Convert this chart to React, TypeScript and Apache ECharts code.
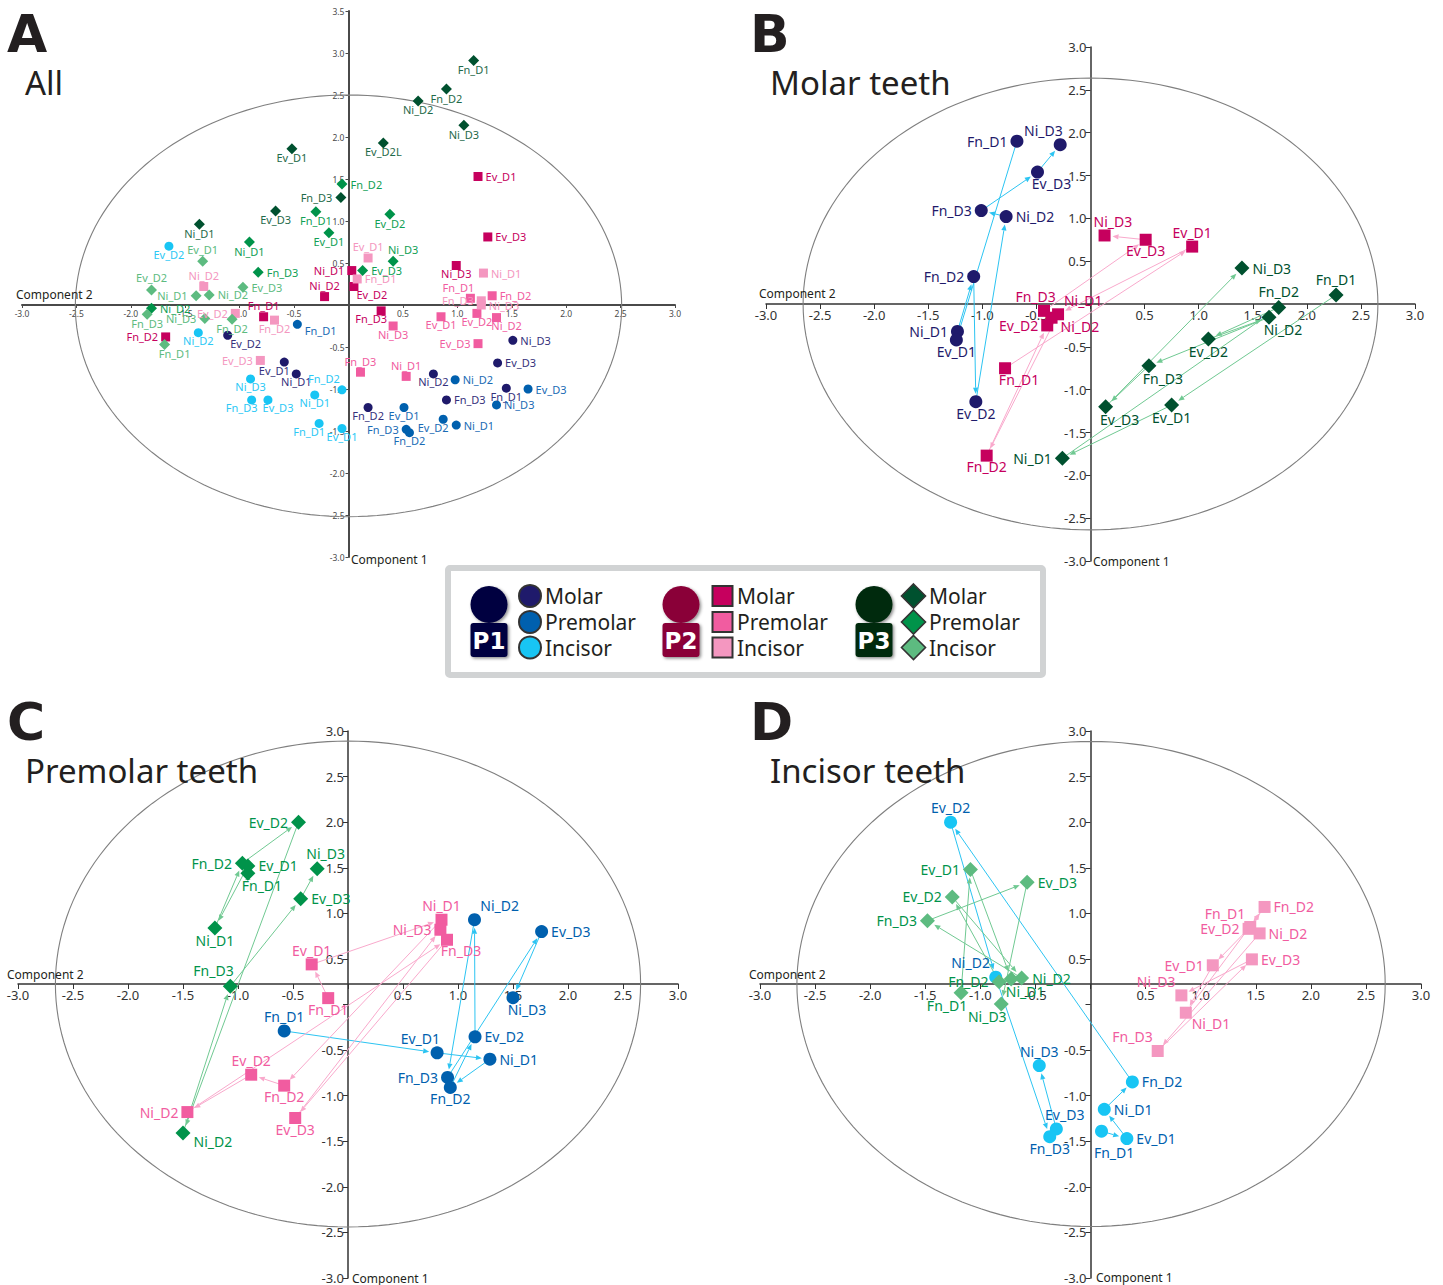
import React, { useEffect, useRef } from "react";
import * as echarts from "echarts";

type P = [string, number, number];

// ---------- Panel A (All) ----------
const A_P1_MOLAR: P[] = [["Ni_D3",1.51,-0.42],["Ev_D3",1.37,-0.69],["Fn_D1",1.45,-0.99],["Ni_D2",0.78,-0.82],["Fn_D3",0.90,-1.13],["Fn_D2",0.18,-1.22],["Ev_D2",-1.11,-0.36],["Ev_D1",-0.59,-0.68],["Ni_D1",-0.48,-0.82]];
const A_P1_PREMOLAR: P[] = [["Fn_D1",-0.47,-0.23],["Ni_D2",0.98,-0.89],["Ev_D3",1.65,-1.00],["Ni_D3",1.36,-1.19],["Ev_D1",0.51,-1.22],["Ni_D1",0.99,-1.43],["Ev_D2",0.87,-1.36],["Fn_D3",0.53,-1.48],["Fn_D2",0.56,-1.52]];
const A_P1_INCISOR: P[] = [["Ev_D2",-1.65,0.70],["Ni_D2",-1.38,-0.33],["Ni_D3",-0.90,-0.88],["Fn_D3",-0.89,-1.13],["Ev_D3",-0.74,-1.13],["Ni_D1",-0.31,-1.07],["Fn_D2",-0.06,-1.01],["Fn_D1",-0.27,-1.41],["Ev_D1",-0.06,-1.47]];
const A_P2_MOLAR: P[] = [["Ev_D1",1.19,1.53],["Ev_D3",1.28,0.81],["Ni_D3",0.99,0.47],["Ni_D1",0.03,0.41],["Ni_D2",-0.22,0.10],["Ev_D2",0.05,0.22],["Fn_D3",0.30,-0.07],["Fn_D1",-0.78,-0.14],["Fn_D2",-1.68,-0.38]];
const A_P2_PREMOLAR: P[] = [["Fn_D2",1.32,0.11],["Fn_D1",1.12,0.08],["Ev_D2",1.18,-0.10],["Ev_D1",0.85,-0.14],["Ni_D2",1.36,-0.15],["Ni_D3",0.41,-0.25],["Ev_D3",1.19,-0.46],["Fn_D3",0.11,-0.80],["Ni_D1",0.53,-0.85]];
const A_P2_INCISOR: P[] = [["Ev_D1",0.18,0.56],["Fn_D1",0.08,0.31],["Ni_D1",1.24,0.38],["Fn_D3",1.22,0.05],["Ni_D3",1.22,0.0],["Ni_D2",-1.33,0.22],["Ev_D2",-1.04,-0.10],["Fn_D2",-0.68,-0.18],["Ev_D3",-0.81,-0.66]];
const A_P3_MOLAR: P[] = [["Fn_D1",1.15,2.91],["Fn_D2",0.90,2.57],["Ni_D2",0.64,2.43],["Ni_D3",1.06,2.14],["Ev_D2L",0.32,1.93],["Ev_D1",-0.52,1.86],["Fn_D3",-0.07,1.28],["Ev_D3",-0.67,1.12],["Ni_D1",-1.37,0.96]];
const A_P3_PREMOLAR: P[] = [["Fn_D2",-0.06,1.44],["Fn_D1",-0.30,1.11],["Ev_D1",-0.18,0.86],["Ni_D1",-0.91,0.75],["Fn_D3",-0.83,0.39],["Ev_D3",0.13,0.41],["Ni_D3",0.41,0.52],["Ev_D2",0.38,1.08],["Ni_D2",-1.81,-0.04]];
const A_P3_INCISOR: P[] = [["Ev_D1",-1.34,0.52],["Ev_D2",-1.81,0.18],["Ev_D3",-0.97,0.21],["Ni_D1",-1.40,0.11],["Ni_D2",-1.28,0.12],["Ni_D3",-1.32,-0.16],["Fn_D2",-1.07,-0.17],["Fn_D3",-1.85,-0.11],["Fn_D1",-1.69,-0.47]];

// ---------- Panel B (Molar) ----------
const B_P1: P[] = [["Fn_D1",-0.68,1.90],["Ni_D3",-0.28,1.86],["Ev_D3",-0.49,1.54],["Fn_D3",-1.01,1.09],["Ni_D2",-0.78,1.02],["Fn_D2",-1.08,0.32],["Ni_D1",-1.23,-0.32],["Ev_D1",-1.24,-0.42],["Ev_D2",-1.06,-1.14]];
const B_P2: P[] = [["Ev_D1",0.94,0.67],["Ev_D3",0.51,0.75],["Ni_D3",0.13,0.80],["Fn_D3",-0.43,-0.08],["Ni_D1",-0.30,-0.12],["Ni_D2",-0.36,-0.16],["Ev_D2",-0.40,-0.25],["Fn_D1",-0.79,-0.75],["Fn_D2",-0.96,-1.77]];
const B_P3: P[] = [["Fn_D1",2.27,0.105],["Fn_D2",1.74,-0.04],["Ni_D2",1.65,-0.155],["Ni_D3",1.40,0.42],["Ev_D2",1.09,-0.41],["Fn_D3",0.54,-0.72],["Ev_D1",0.75,-1.18],["Ev_D3",0.14,-1.20],["Ni_D1",-0.26,-1.80]];

// ---------- Panel C (Premolar) ----------
const C_P1: P[] = [["Ni_D2",1.15,0.93],["Ev_D3",1.76,0.80],["Ni_D3",1.50,0.075],["Ev_D2",1.155,-0.355],["Ev_D1",0.81,-0.53],["Ni_D1",1.29,-0.60],["Fn_D3",0.905,-0.80],["Fn_D2",0.93,-0.91],["Fn_D1",-0.58,-0.29]];
const C_P2: P[] = [["Ev_D1",-0.33,0.44],["Fn_D1",-0.18,0.07],["Ev_D2",-0.88,-0.77],["Fn_D2",-0.58,-0.89],["Ni_D2",-1.46,-1.18],["Ev_D3",-0.48,-1.245],["Ni_D1",0.85,0.93],["Ni_D3",0.84,0.82],["Fn_D3",0.90,0.71]];
const C_P3: P[] = [["Ev_D2",-0.45,2.00],["Fn_D2",-0.96,1.55],["Ev_D1",-0.91,1.52],["Fn_D1",-0.91,1.44],["Ni_D3",-0.28,1.49],["Ev_D3",-0.43,1.16],["Ni_D1",-1.21,0.84],["Fn_D3",-1.07,0.20],["Ni_D2",-1.50,-1.41]];

// ---------- Panel D (Incisor) ----------
const D_P1: P[] = [["Ev_D2",-1.27,2.00],["Ni_D2",-0.86,0.30],["Ni_D3",-0.465,-0.67],["Ev_D3",-0.31,-1.365],["Fn_D3",-0.37,-1.45],["Fn_D2",0.38,-0.85],["Ni_D1",0.125,-1.15],["Fn_D1",0.10,-1.39],["Ev_D1",0.33,-1.47]];
const D_P2: P[] = [["Fn_D2",1.58,1.07],["Fn_D1",1.45,0.85],["Ev_D2",1.435,0.83],["Ni_D2",1.535,0.78],["Ev_D3",1.465,0.495],["Ev_D1",1.11,0.43],["Ni_D3",0.825,0.10],["Ni_D1",0.865,-0.09],["Fn_D3",0.61,-0.51]];
const D_P3: P[] = [["Ev_D1",-1.09,1.48],["Ev_D3",-0.575,1.34],["Ev_D2",-1.255,1.18],["Fn_D3",-1.48,0.92],["Ni_D2",-0.625,0.29],["Ni_D1",-0.72,0.28],["Fn_D2",-0.83,0.25],["Fn_D1",-1.175,0.13],["Ni_D3",-0.81,0.005]];

// label sides, in the order of the lists above
const A_SIDES = ["rrbbrbSLb", "ErrrbrLlb", "bbbLRbWLb", "rrbltSLtl", "rUbbRbltt", "trrlrtlbl", "bbbbbblbb", "rbbbrrTbr", "ttrlrlbbR"];
const B_SIDES = ["lURlrllbb", "tbHIVElRb", "ttRrbRbRl"];
const C_SIDES = ["VrRrUrlbt", "tbtblbtlR", "llrRHrbUE"];
const D_SIDES = ["tWtHbrrYr", "rWlrrlWSW", "lrllrRlLL"];

// the fixed order in which each group's sessions are joined
const ARROW_ORDER = ["Fn_D1", "Ev_D1", "Ni_D1", "Fn_D2", "Ev_D2", "Ni_D2", "Fn_D3", "Ev_D3", "Ni_D3"];

const ELLIPSE_A = [0, -0.01, 2.51, 2.51];
const ELLIPSE_B = [0, 0, 2.657, 2.637];
const ELLIPSE_C = [0, 0.225, 2.66, 2.665];
const ELLIPSE_D = [0.005, 0.225, 2.67, 2.66];

const TICK_STEP = 0.5;

const C1 = { m: "#1f1a6b", p: "#0060ae", i: "#18c5f4" };
const C2 = { m: "#c6005e", p: "#f15ca0", i: "#f497c0" };
const C3 = { m: "#00512f", p: "#00934a", i: "#5dbb80" };
const ARROW = { p1: "#2cc4f2", p2: "#f9a9cc", p3: "#70c992" };
const FONT = "Noto Sans";
const TEXT = "#231f20";

function labelOpts(code: string, d: number) {
  const below = (k: number, dy = 0) => ({ position: "bottom", distance: -2, offset: [d * k, dy] });
  const above = (k: number) => ({ position: "top", distance: 1, offset: [d * k, 0] });
  switch (code) {
    case "r": return { position: "right", distance: 3 };
    case "l": return { position: "left", distance: 3 };
    case "E": return { position: "right", distance: 3, offset: [0, d * 0.6] };
    case "t": return above(0);
    case "b": return below(0);
    case "R": return below(1);
    case "Y": return below(0.9, d * 0.7);
    case "S": return below(1.8);
    case "L": return below(-1);
    case "T": return above(1);
    case "H": return above(0.6);
    case "V": return above(1.8);
    case "I": return above(-0.6);
    case "U": return above(-1.2);
    default: return above(-1.8);
  }
}

function scatter(idx: number, pts: P[], sides: string, symbol: string, size: number, color: string, labelColor: string, fontSize: number, scale: number) {
  return {
    type: "scatter",
    xAxisIndex: idx,
    yAxisIndex: idx,
    symbol,
    symbolSize: size,
    z: 5,
    silent: true,
    itemStyle: { color, opacity: 1 },
    label: { show: true, color: labelColor, fontSize, fontFamily: FONT, formatter: "{b}" },
    data: pts.map((p, i) => ({ name: p[0], value: [p[1], p[2]], label: labelOpts(sides[i], scale) })),
  };
}

function arrows(idx: number, pts: P[], color: string, gap: number) {
  const byName = new Map(pts.map((p) => [p[0], p]));
  const data: number[][] = [];
  for (let i = 0; i + 1 < ARROW_ORDER.length; i++) {
    const a = byName.get(ARROW_ORDER[i])!;
    const b = byName.get(ARROW_ORDER[i + 1])!;
    data.push([a[1], a[2], b[1], b[2]]);
  }
  return {
    type: "custom",
    xAxisIndex: idx,
    yAxisIndex: idx,
    coordinateSystem: "cartesian2d",
    silent: true,
    clip: false,
    z: 3,
    data,
    renderItem: (_: any, api: any) => {
      const a = api.coord([api.value(0), api.value(1)]);
      const b = api.coord([api.value(2), api.value(3)]);
      const dx = b[0] - a[0];
      const dy = b[1] - a[1];
      const len = Math.hypot(dx, dy) || 1;
      const ux = dx / len;
      const uy = dy / len;
      const ex = b[0] - ux * gap;
      const ey = b[1] - uy * gap;
      const hx = ex - ux * 6;
      const hy = ey - uy * 6;
      return {
        type: "group",
        children: [
          { type: "line", shape: { x1: a[0], y1: a[1], x2: hx, y2: hy }, style: { stroke: color, lineWidth: 1, fill: "none" } },
          { type: "polygon", shape: { points: [[ex, ey], [hx - uy * 2.6, hy + ux * 2.6], [hx + uy * 2.6, hy - ux * 2.6]] }, style: { fill: color, stroke: "none" } },
        ],
      };
    },
  };
}

function ellipse(idx: number, e: number[]) {
  return {
    type: "custom",
    xAxisIndex: idx,
    yAxisIndex: idx,
    coordinateSystem: "cartesian2d",
    silent: true,
    clip: false,
    z: 1,
    data: [e],
    renderItem: (_: any, api: any) => {
      const cx = api.value(0), cy = api.value(1), rx = api.value(2), ry = api.value(3);
      const points: number[][] = [];
      for (let i = 0; i <= 180; i++) {
        const t = (i / 180) * Math.PI * 2;
        points.push(api.coord([cx + rx * Math.cos(t), cy + ry * Math.sin(t)]));
      }
      return { type: "polyline", shape: { points }, style: { stroke: "#7f7f7f", lineWidth: 1.1, fill: "none" } };
    },
  };
}

function axisPair(idx: number, yMin: number, yMax: number, fontSize: number, lineWidth: number, tick: number, color: string, xOffset: number, yOffset: number) {
  const fmt = (v: number) => (Math.abs(v) < 1e-9 ? "" : v.toFixed(1));
  const common = {
    type: "value",
    gridIndex: idx,
    interval: TICK_STEP,
    splitLine: { show: false },
    axisTick: { show: true, length: tick, lineStyle: { color, width: 1 } },
    axisLabel: { show: true, fontSize, fontFamily: FONT, color, margin: 4, formatter: fmt, showMinLabel: true, showMaxLabel: true, hideOverlap: false },
  };
  return {
    x: {
      ...common,
      min: -3,
      max: 3,
      position: "bottom",
      offset: xOffset,
      axisLine: { show: true, onZero: false, lineStyle: { color, width: lineWidth } },
    },
    y: {
      ...common,
      min: yMin,
      max: yMax,
      position: "left",
      offset: yOffset,
      axisLine: { show: true, onZero: false, lineStyle: { color, width: lineWidth } },
    },
  };
}

function txt(text: string, x: number, y: number, font: string, fill = TEXT) {
  return { type: "text", silent: true, z: 20, style: { text, x, y, font, fill, align: "left", verticalAlign: "middle" } };
}

function legendGraphics() {
  const out: any[] = [];
  out.push({ type: "rect", z: 10, silent: true, shape: { x: 448, y: 568, width: 595, height: 107, r: 2 }, style: { fill: "#fff", stroke: "#d1d3d4", lineWidth: 6 } });
  const people = [
    { head: 489, dark: "#01003f", tag: "P1" },
    { head: 681, dark: "#8a0038", tag: "P2" },
    { head: 874, dark: "#002a0f", tag: "P3" },
  ];
  const shadow = { shadowBlur: 3, shadowOffsetX: 1.5, shadowOffsetY: 1.5, shadowColor: "rgba(0,0,0,0.45)" };
  people.forEach((p) => {
    out.push({ type: "ellipse", z: 11, silent: true, shape: { cx: p.head, cy: 604.5, rx: 18.5, ry: 18.5 }, style: { fill: p.dark, ...shadow } });
    out.push({ type: "rect", z: 11, silent: true, shape: { x: p.head - 18.5, y: 623, width: 37, height: 34, r: 3 }, style: { fill: p.dark, ...shadow } });
    out.push({ type: "text", z: 12, silent: true, style: { text: p.tag, x: p.head, y: 641, font: "bold 23px 'DejaVu Sans'", fill: "#fff", align: "center", verticalAlign: "middle" } });
  });
  const rows = [596, 622, 647.5];
  const names = ["Molar", "Premolar", "Incisor"];
  const stroke = "#333";
  rows.forEach((y, i) => {
    const k = i === 0 ? "m" : i === 1 ? "p" : "i";
    out.push({ type: "circle", z: 11, silent: true, shape: { cx: 530, cy: y, r: 11 }, style: { fill: (C1 as any)[k], stroke, lineWidth: 2 } });
    out.push({ type: "rect", z: 11, silent: true, shape: { x: 712.5, y: y - 10, width: 20, height: 20 }, style: { fill: (C2 as any)[k], stroke, lineWidth: 2 } });
    out.push({ type: "polygon", z: 11, silent: true, shape: { points: [[913.5, y - 12], [925.5, y], [913.5, y + 12], [901.5, y]] }, style: { fill: (C3 as any)[k], stroke, lineWidth: 1.6 } });
    out.push(txt(names[i], 545, y, `21px '${FONT}'`));
    out.push(txt(names[i], 737, y, `21px '${FONT}'`));
    out.push(txt(names[i], 929, y, `21px '${FONT}'`));
  });
  return out;
}

export default function App() {
  const ref = useRef<HTMLDivElement>(null);
  useEffect(() => {
    document.body.style.margin = "0";
    const chart = echarts.init(ref.current!, undefined, { renderer: "svg" });
    const a = axisPair(0, -3, 3.5, 8.5, 2, 3, "#4a4a4a", -252, -326.5);
    const b = axisPair(1, -3, 3, 13, 1.5, 5, "#333", -257, -324.5);
    const c = axisPair(2, -3, 3, 13, 1.5, 5, "#333", -294, -330);
    const d = axisPair(3, -3, 3, 13, 1.5, 5, "#333", -294, -330.5);
    const f = (i: number) => ({ left: [22, 766, 18, 760][i], top: [11, 47, 731, 731][i], width: [653, 649, 660, 661][i], height: [546, 514, 547, 547][i], containLabel: false, outerBoundsMode: "none" });
    const AF = 11;
    const BF = 14;
    const series: any[] = [
      ellipse(0, ELLIPSE_A),
      ellipse(1, ELLIPSE_B),
      ellipse(2, ELLIPSE_C),
      ellipse(3, ELLIPSE_D),
      scatter(0, A_P1_MOLAR, A_SIDES[0], "circle", 9, C1.m, "#35317c", AF, 10),
      scatter(0, A_P1_PREMOLAR, A_SIDES[1], "circle", 9, C1.p, "#1a6bb5", AF, 10),
      scatter(0, A_P1_INCISOR, A_SIDES[2], "circle", 9, C1.i, "#2cc8f5", AF, 10),
      scatter(0, A_P2_MOLAR, A_SIDES[3], "rect", 9, C2.m, C2.m, AF, 10),
      scatter(0, A_P2_PREMOLAR, A_SIDES[4], "rect", 9, C2.p, C2.p, AF, 10),
      scatter(0, A_P2_INCISOR, A_SIDES[5], "rect", 9, C2.i, C2.i, AF, 10),
      scatter(0, A_P3_MOLAR, A_SIDES[6], "diamond", 11, C3.m, "#1f6a4a", AF, 10),
      scatter(0, A_P3_PREMOLAR, A_SIDES[7], "diamond", 11, C3.p, "#10a055", AF, 10),
      scatter(0, A_P3_INCISOR, A_SIDES[8], "diamond", 11, C3.i, C3.i, AF, 10),
      arrows(1, B_P1, ARROW.p1, 8),
      arrows(1, B_P2, ARROW.p2, 8),
      arrows(1, B_P3, ARROW.p3, 8),
      scatter(1, B_P1, B_SIDES[0], "circle", 13, C1.m, C1.m, BF, 14),
      scatter(1, B_P2, B_SIDES[1], "rect", 12, C2.m, C2.m, BF, 14),
      scatter(1, B_P3, B_SIDES[2], "diamond", 15, C3.m, C3.m, BF, 14),
      arrows(2, C_P1, ARROW.p1, 8),
      arrows(2, C_P2, ARROW.p2, 8),
      arrows(2, C_P3, ARROW.p3, 8),
      scatter(2, C_P1, C_SIDES[0], "circle", 13, C1.p, C1.p, BF, 14),
      scatter(2, C_P2, C_SIDES[1], "rect", 12, C2.p, C2.p, BF, 14),
      scatter(2, C_P3, C_SIDES[2], "diamond", 15, C3.p, C3.p, BF, 14),
      arrows(3, D_P1, ARROW.p1, 8),
      arrows(3, D_P2, ARROW.p2, 8),
      arrows(3, D_P3, ARROW.p3, 8),
      scatter(3, D_P1, D_SIDES[0], "circle", 13, C1.i, C1.p, BF, 14),
      scatter(3, D_P2, D_SIDES[1], "rect", 12, C2.i, C2.p, BF, 14),
      scatter(3, D_P3, D_SIDES[2], "diamond", 15, C3.i, C3.p, BF, 14),
    ];
    const labels = [
      txt("A", 7, 34, "bold 52px 'DejaVu Sans'"),
      txt("B", 750, 34, "bold 52px 'DejaVu Sans'"),
      txt("C", 7, 722, "bold 52px 'DejaVu Sans'"),
      txt("D", 750, 722, "bold 52px 'DejaVu Sans'"),
      txt("All", 25, 82, `33px '${FONT}'`),
      txt("Molar teeth", 770, 82, `33px '${FONT}'`),
      txt("Premolar teeth", 25, 770, `33px '${FONT}'`),
      txt("Incisor teeth", 770, 770, `33px '${FONT}'`),
      txt("Component 2", 16, 294, `12px '${FONT}'`),
      txt("Component 1", 351, 559, `12px '${FONT}'`),
      txt("Component 2", 759, 293, `12px '${FONT}'`),
      txt("Component 1", 1093, 561, `12px '${FONT}'`),
      txt("Component 2", 7, 974, `12px '${FONT}'`),
      txt("Component 1", 352, 1278, `12px '${FONT}'`),
      txt("Component 2", 749, 974, `12px '${FONT}'`),
      txt("Component 1", 1096, 1277, `12px '${FONT}'`),
    ];
    chart.setOption({
      animation: false,
      backgroundColor: "#fff",
      grid: [f(0), f(1), f(2), f(3)],
      xAxis: [a.x, b.x, c.x, d.x],
      yAxis: [a.y, b.y, c.y, d.y],
      series,
      graphic: { elements: [...labels, ...legendGraphics()] },
    });
    return () => chart.dispose();
  }, []);
  return <div ref={ref} style={{ position: "absolute", left: 0, top: 0, width: 1443, height: 1285 }} />;
}
